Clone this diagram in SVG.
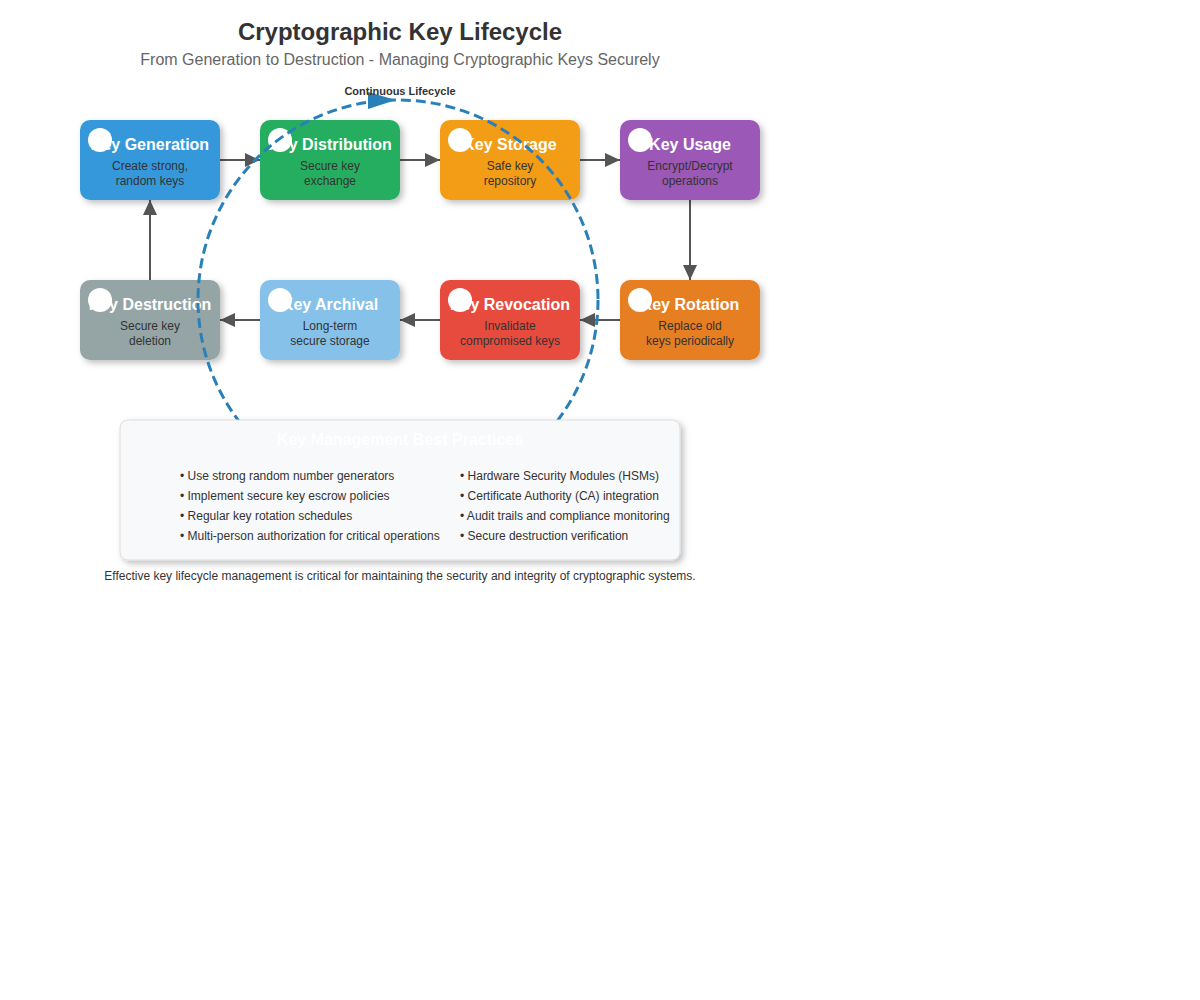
<svg xmlns="http://www.w3.org/2000/svg" width="1200" height="1000" viewBox="0 0 1200 1000">
<defs>
<filter id="sh" x="-20%" y="-20%" width="150%" height="150%">
<feDropShadow dx="3" dy="3" stdDeviation="3" flood-color="#000" flood-opacity="0.25"/>
</filter>
<marker id="ah" viewBox="0 0 15 14" refX="15" refY="7" markerWidth="15" markerHeight="14" markerUnits="userSpaceOnUse" orient="auto">
<path d="M0,0 L15,7 L0,14 z" fill="#555"/>
</marker>
</defs>
<style>
text{font-family:"Liberation Sans",Arial,sans-serif}
.nt{font-size:16px;font-weight:bold;fill:#fff;text-anchor:middle}
.nd{font-size:12px;fill:#333;text-anchor:middle}
.bx{filter:url(#sh)}
.conn{stroke:#555;stroke-width:2;fill:none}
.ic{fill:#fff}
.bp{font-size:12px;fill:#333}
</style>
<rect width="1200" height="1000" fill="#fff"/>
<text x="400" y="40" font-size="24" font-weight="bold" fill="#333" text-anchor="middle">Cryptographic Key Lifecycle</text>
<text x="400" y="65" font-size="16" fill="#666" text-anchor="middle">From Generation to Destruction - Managing Cryptographic Keys Securely</text>

<g id="connectors">
<line class="conn" x1="220" y1="160" x2="260" y2="160" marker-end="url(#ah)"/>
<line class="conn" x1="400" y1="160" x2="440" y2="160" marker-end="url(#ah)"/>
<line class="conn" x1="580" y1="160" x2="620" y2="160" marker-end="url(#ah)"/>
<line class="conn" x1="690" y1="200" x2="690" y2="280" marker-end="url(#ah)"/>
<line class="conn" x1="620" y1="320" x2="580" y2="320" marker-end="url(#ah)"/>
<line class="conn" x1="440" y1="320" x2="400" y2="320" marker-end="url(#ah)"/>
<line class="conn" x1="260" y1="320" x2="220" y2="320" marker-end="url(#ah)"/>
<line class="conn" x1="150" y1="280" x2="150" y2="200" marker-end="url(#ah)"/>
</g>

<g id="node-generation">
<rect class="bx" x="80" y="120" width="140" height="80" rx="10" fill="#3498db"/>
<text class="nt" x="150" y="150">Key Generation</text>
<text class="nd" x="150" y="170">Create strong,</text>
<text class="nd" x="150" y="185">random keys</text>
<circle class="ic" cx="100" cy="140" r="12"/>
</g>
<g id="node-distribution">
<rect class="bx" x="260" y="120" width="140" height="80" rx="10" fill="#27ae60"/>
<text class="nt" x="330" y="150">Key Distribution</text>
<text class="nd" x="330" y="170">Secure key</text>
<text class="nd" x="330" y="185">exchange</text>
<circle class="ic" cx="280" cy="140" r="12"/>
</g>
<g id="node-storage">
<rect class="bx" x="440" y="120" width="140" height="80" rx="10" fill="#f39c12"/>
<text class="nt" x="510" y="150">Key Storage</text>
<text class="nd" x="510" y="170">Safe key</text>
<text class="nd" x="510" y="185">repository</text>
<circle class="ic" cx="460" cy="140" r="12"/>
</g>
<g id="node-usage">
<rect class="bx" x="620" y="120" width="140" height="80" rx="10" fill="#9b59b6"/>
<text class="nt" x="690" y="150">Key Usage</text>
<text class="nd" x="690" y="170">Encrypt/Decrypt</text>
<text class="nd" x="690" y="185">operations</text>
<circle class="ic" cx="640" cy="140" r="12"/>
</g>
<g id="node-rotation">
<rect class="bx" x="620" y="280" width="140" height="80" rx="10" fill="#e67e22"/>
<text class="nt" x="690" y="310">Key Rotation</text>
<text class="nd" x="690" y="330">Replace old</text>
<text class="nd" x="690" y="345">keys periodically</text>
<circle class="ic" cx="640" cy="300" r="12"/>
</g>
<g id="node-revocation">
<rect class="bx" x="440" y="280" width="140" height="80" rx="10" fill="#e74c3c"/>
<text class="nt" x="510" y="310">Key Revocation</text>
<text class="nd" x="510" y="330">Invalidate</text>
<text class="nd" x="510" y="345">compromised keys</text>
<circle class="ic" cx="460" cy="300" r="12"/>
</g>
<g id="node-archival">
<rect class="bx" x="260" y="280" width="140" height="80" rx="10" fill="#85c1e9"/>
<text class="nt" x="330" y="310">Key Archival</text>
<text class="nd" x="330" y="330">Long-term</text>
<text class="nd" x="330" y="345">secure storage</text>
<circle class="ic" cx="280" cy="300" r="12"/>
</g>
<g id="node-destruction">
<rect class="bx" x="80" y="280" width="140" height="80" rx="10" fill="#95a5a6"/>
<text class="nt" x="150" y="310">Key Destruction</text>
<text class="nd" x="150" y="330">Secure key</text>
<text class="nd" x="150" y="345">deletion</text>
<circle class="ic" cx="100" cy="300" r="12"/>
</g>

<g id="cycle">
<circle cx="398" cy="300" r="200" fill="none" stroke="#2980b9" stroke-width="3" stroke-dasharray="10,5"/>
<polygon points="368,92 396,100 368,109" fill="#2980b9"/>
<text x="400" y="95" font-size="11" font-weight="bold" fill="#333" text-anchor="middle">Continuous Lifecycle</text>
</g>

<g id="best-practices">
<rect class="bx" x="120" y="420" width="560" height="140" rx="8" fill="#f8f9fa" stroke="#ddd" stroke-width="1"/>
<text x="400" y="445" font-size="16" font-weight="bold" fill="#fff" text-anchor="middle">Key Management Best Practices</text>
<text class="bp" x="180" y="480">• Use strong random number generators</text>
<text class="bp" x="180" y="500">• Implement secure key escrow policies</text>
<text class="bp" x="180" y="520">• Regular key rotation schedules</text>
<text class="bp" x="180" y="540">• Multi-person authorization for critical operations</text>
<text class="bp" x="460" y="480">• Hardware Security Modules (HSMs)</text>
<text class="bp" x="460" y="500">• Certificate Authority (CA) integration</text>
<text class="bp" x="460" y="520">• Audit trails and compliance monitoring</text>
<text class="bp" x="460" y="540">• Secure destruction verification</text>
</g>
<text x="400" y="580" font-size="12" fill="#333" text-anchor="middle">Effective key lifecycle management is critical for maintaining the security and integrity of cryptographic systems.</text>
</svg>
